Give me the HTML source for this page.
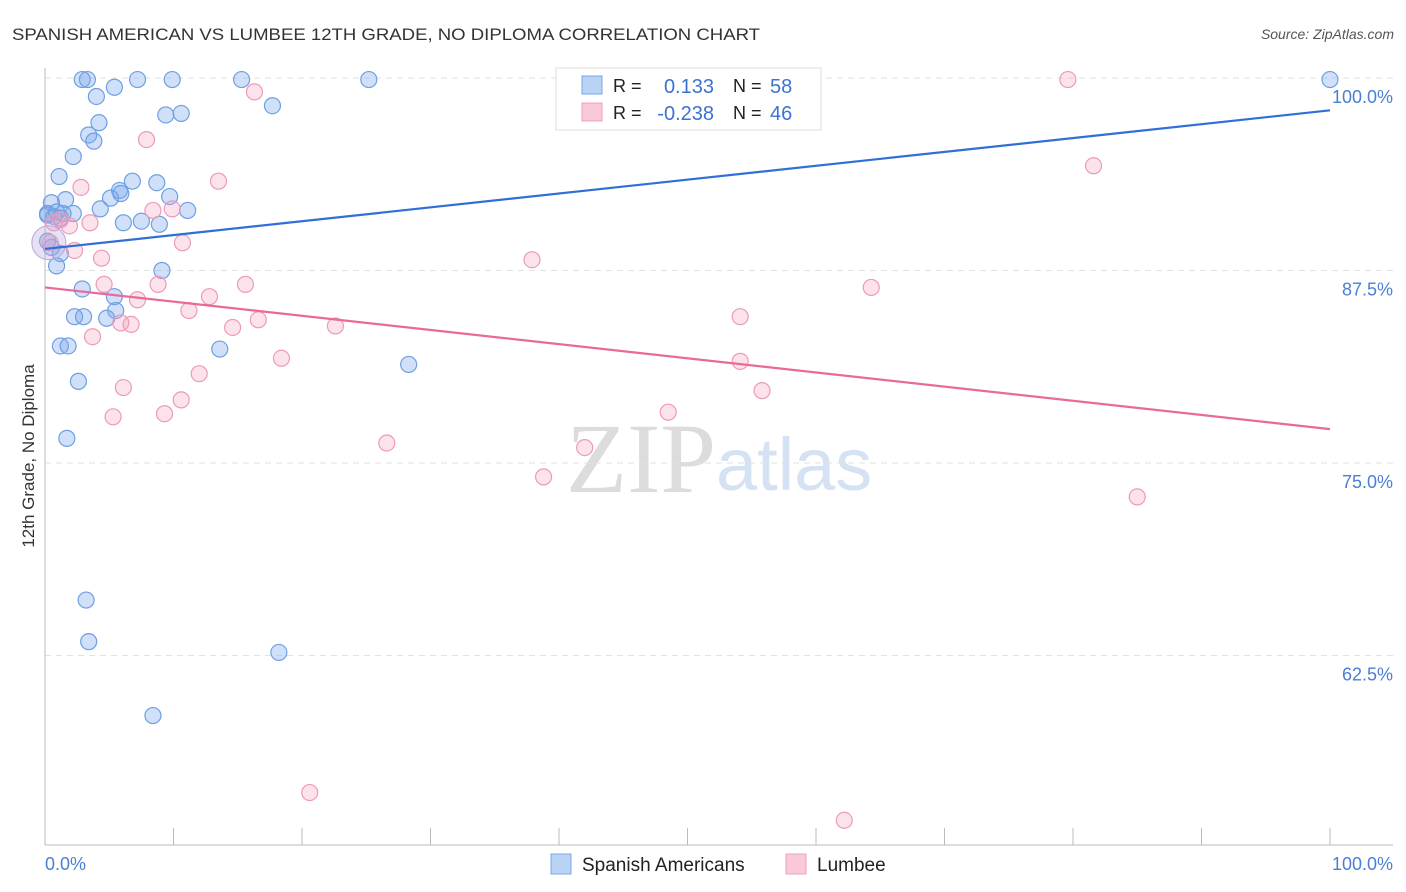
<!DOCTYPE html>
<html><head><meta charset="utf-8"><style>
body{margin:0;background:#fff;font-family:"Liberation Sans",sans-serif;}
svg{display:block}
</style></head><body>
<svg width="1406" height="892" id="chart">
<text x="12" y="40" font-size="17" fill="#333" textLength="748" lengthAdjust="spacingAndGlyphs">SPANISH AMERICAN VS LUMBEE 12TH GRADE, NO DIPLOMA CORRELATION CHART</text>
<text x="1394" y="39" font-size="14" fill="#555" font-style="italic" text-anchor="end">Source: ZipAtlas.com</text>
<text x="716" y="492" font-size="100" fill="#dcdcdc" text-anchor="end" font-family="Liberation Serif">ZIP</text>
<text x="716" y="490" font-size="74" fill="#d4e2f4">atlas</text>
<g id="grid"></g>
<g id="axes"></g>
<g id="pts"></g>
<g id="lines"></g>
<text transform="translate(34,456) rotate(-90)" font-size="17" fill="#333" text-anchor="middle">12th Grade, No Diploma</text>
<text x="45" y="870" font-size="18" fill="#4a7fd4">0.0%</text>
<text x="1393" y="870" font-size="18" fill="#4a7fd4" text-anchor="end">100.0%</text>
<g>
<rect x="556" y="68" width="265" height="62" fill="#fff" stroke="#ddd"/>
<rect x="582" y="76" width="20" height="18" fill="#b9d3f5" stroke="#7aa6e6"/>
<rect x="582" y="103" width="20" height="18" fill="#f9c9d8" stroke="#eca0bb"/>
<text x="613" y="92" font-size="18" fill="#222">R = </text><text x="714" y="93" font-size="20" fill="#3b73d1" text-anchor="end">0.133</text>
<text x="733" y="92" font-size="18" fill="#222">N = </text><text x="770" y="93" font-size="20" fill="#3b73d1">58</text>
<text x="613" y="119" font-size="18" fill="#222">R = </text><text x="714" y="120" font-size="20" fill="#3b73d1" text-anchor="end">-0.238</text>
<text x="733" y="119" font-size="18" fill="#222">N = </text><text x="770" y="120" font-size="20" fill="#3b73d1">46</text>
</g>
<g>
<rect x="551" y="854" width="20" height="20" fill="#b9d3f5" stroke="#7aa6e6"/>
<text x="582" y="871" font-size="19" fill="#222">Spanish Americans</text>
<rect x="786" y="854" width="20" height="20" fill="#f9c9d8" stroke="#eca0bb"/>
<text x="817" y="871" font-size="19" fill="#222">Lumbee</text>
</g>
</svg>
<script>
const yTicks=[100,87.5,75,62.5];
const yTickLabels=["100.0%","87.5%","75.0%","62.5%"];
const xTicks=[0,10,20,30,40,50,60,70,80,90,100];
const blueX=[2.9,3.3,7.2,9.9,15.3,25.2,100,5.4,4.0,17.7,9.4,10.6,4.2,3.4,3.8,2.2,1.1,8.7,6.8,5.8,5.1,5.9,9.7,1.6,0.5,4.3,11.1,2.2,1.4,0.2,0.7,6.1,7.5,8.9,1.2,0.9,9.1,2.9,5.4,5.5,2.3,3.0,4.8,1.2,1.8,13.6,28.3,2.6,1.7,3.2,3.4,18.2,8.4,0.2,0.5,0.2,1.2,0.9];
const blueY=[99.9,99.9,99.9,99.9,99.9,99.9,99.9,99.4,98.8,98.2,97.6,97.7,97.1,96.3,95.9,94.9,93.6,93.2,93.3,92.7,92.2,92.5,92.3,92.1,91.9,91.5,91.4,91.2,91.2,91.2,91.0,90.6,90.7,90.5,88.6,87.8,87.5,86.3,85.8,84.9,84.5,84.5,84.4,82.6,82.6,82.4,81.4,80.3,76.6,66.1,63.4,62.7,58.6,89.4,89.0,91.1,90.9,91.3];
const pinkX=[79.6,16.3,7.9,81.6,13.5,2.8,8.4,9.9,1.2,3.5,1.9,10.7,2.3,37.9,4.4,4.6,8.8,15.6,64.3,7.2,12.8,11.2,16.6,5.9,6.7,14.6,22.6,54.1,3.7,18.4,54.1,12.0,6.1,55.8,10.6,5.3,9.3,48.5,26.6,42.0,38.8,85.0,20.6,62.2,0.4,0.7];
const pinkY=[99.9,99.1,96.0,94.3,93.3,92.9,91.4,91.5,90.8,90.6,90.4,89.3,88.8,88.2,88.3,86.6,86.6,86.6,86.4,85.6,85.8,84.9,84.3,84.1,84.0,83.8,83.9,84.5,83.2,81.8,81.6,80.8,79.9,79.7,79.1,78.0,78.2,78.3,76.3,76.0,74.1,72.8,53.6,51.8,89.3,90.6];
const blueTrend=[88.9,97.9];
const pinkTrend=[86.4,77.2];
const NS='http://www.w3.org/2000/svg';
const sx=v=>45+v*12.85, sy=v=>78+(100-v)*15.4;
function mk(t,a,p){const e=document.createElementNS(NS,t);for(const k in a)e.setAttribute(k,a[k]);document.getElementById(p).appendChild(e);return e;}
yTicks.forEach((v,i)=>{
 const l=mk('line',{x1:45,x2:1393,y1:sy(v),y2:sy(v),stroke:'#e2e2e2','stroke-dasharray':'6,5'},'grid');
 
 
 const t=mk('text',{x:1393,y:sy(v)+25,'font-size':18,fill:'#4a7fd4','text-anchor':'end'},'grid');
 t.textContent=yTickLabels[i];
 
 
});
mk('line',{x1:45,x2:45,y1:68,y2:845,stroke:'#bbb'},'axes');
mk('line',{x1:45,x2:1393,y1:845,y2:845,stroke:'#bbb'},'axes');
xTicks.forEach(v=>{const l=mk('line',{x1:sx(v),x2:sx(v),y1:828,y2:845,stroke:'#bbb'},'axes');
 
 });
blueX.forEach((x,i)=>{const c=mk('circle',{cx:sx(x),cy:sy(blueY[i]),r:8,fill:'rgba(120,165,235,0.35)',stroke:'#6e9fe3','stroke-width':1.2},'pts');
 
 });
pinkX.forEach((x,i)=>{const c=mk('circle',{cx:sx(x),cy:sy(pinkY[i]),r:8,fill:'rgba(245,160,190,0.3)',stroke:'#eb9bb8','stroke-width':1.2},'pts');
 
 });
const big=mk('circle',{cx:sx(0.3),cy:sy(89.3),r:17,fill:'rgba(190,170,220,0.35)',stroke:'#b9a6dc'},'pts');


const bl=mk('line',{x1:sx(0),x2:sx(100),y1:sy(blueTrend[0]),y2:sy(blueTrend[1]),stroke:'#2f6fd6','stroke-width':2.2},'lines');


const pl=mk('line',{x1:sx(0),x2:sx(100),y1:sy(pinkTrend[0]),y2:sy(pinkTrend[1]),stroke:'#e8699a','stroke-width':2.2},'lines');


</script>
</body></html>
